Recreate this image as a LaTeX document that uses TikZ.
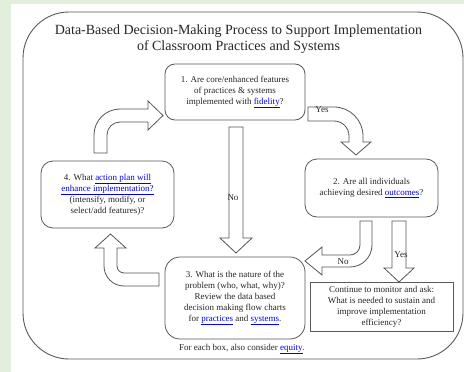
\documentclass[tikz,border=0pt]{standalone}
\usepackage{fontspec}
\setmainfont{Liberation Serif}
\definecolor{bggreen}{HTML}{E2EFDA}
\definecolor{edgegray}{HTML}{5A5A5A}
\definecolor{arrowgray}{HTML}{555555}
\definecolor{linkblue}{HTML}{0000EE}
\newcommand{\lnk}[1]{\textcolor{linkblue}{\underline{#1}}}
\begin{document}
\begin{tikzpicture}[x=1pt,y=-1pt,
  boxtext/.style={font=\fontsize{9}{11}\selectfont, align=center, text=black!85},
  qbox/.style={draw=edgegray, line width=0.8pt, rounded corners=#1, boxtext, inner sep=2pt},
  qbox/.default=10pt,
  plainbox/.style={draw=edgegray, line width=0.8pt, boxtext, inner sep=2pt},
  blockarrow/.style={draw=arrowgray, fill=white, line width=0.8pt, line join=miter},
  tag/.style={font=\fontsize{9}{11}\selectfont, text=black!85, inner sep=0pt}]

% page background and white panel
\fill[bggreen] (0,0) rectangle (464,372);
\fill[white] (11,4) rectangle (464,372);
\useasboundingbox (0,0) rectangle (464,372);

% outer frame
\node[draw=edgegray, line width=0.9pt, rounded corners=46pt,
      minimum width=440pt, minimum height=347pt, inner sep=0pt] (frame) at (243,185.5) {};

% title
\node[font=\fontsize{14}{16}\selectfont, align=center, text=black!85] (title) at (238.5,39)
  {Data-Based Decision-Making Process to Support Implementation\\of Classroom Practices and Systems};

% question boxes
\node[qbox=10pt, minimum width=140pt, minimum height=56pt] (q1) at (235,92)
  {1. Are core/enhanced features\\of practices \& systems\\implemented with \lnk{fidelity}?};
\node[qbox=12pt, minimum width=133pt, minimum height=58pt] (q2) at (371.5,188)
  {2. Are all individuals\\achieving desired \lnk{outcomes}?};
\node[qbox=15pt, minimum width=140pt, minimum height=82pt] (q3) at (235,298)
  {3. What is the nature of the\\problem (who, what, why)?\\Review the data based\\decision making flow charts\\for \lnk{practices} and \lnk{systems}.};
\node[qbox=12pt, minimum width=133pt, minimum height=67pt] (q4) at (107.5,194.5)
  {4. What \lnk{action plan will}\\\lnk{enhance implementation?}\\(intensify, modify, or\\select/add features)?};
\node[plainbox, minimum width=143pt, minimum height=49pt] (cont) at (381.5,306.5)
  {Continue to monitor and ask:\\What is needed to sustain and\\improve implementation\\efficiency?};

% footer
\node[boxtext] (foot) at (242,349) {For each box, also consider \lnk{equity}.};

% block arrows
% 1 -> 3 (No)
\draw[blockarrow] (229,127) -- (243,127) -- (243,238) -- (252,238) -- (236,253)
  -- (220,238) -- (229,238) -- cycle;
% 1 -> 2 (Yes)
\draw[blockarrow] (308,107) -- (334,107) arc[start angle=90,end angle=0,radius=29pt]
  -- (363,142) -- (371,142) -- (356,155) -- (341,142) -- (349,142) -- (349,136)
  arc[start angle=0,end angle=90,radius=15pt] -- (308,121) -- cycle;
% 2 -> 3 (No)
\draw[blockarrow] (360,221) -- (372,221) -- (372,245) arc[start angle=0,end angle=-90,radius=22pt]
  -- (322,267) -- (322,275) -- (305,261) -- (322,247) -- (322,255) -- (350,255)
  arc[start angle=-90,end angle=0,radius=10pt] -- cycle;
% 2 -> continue (Yes)
\draw[blockarrow] (392,221) -- (406,221) -- (406,268) -- (414,268) -- (399,282)
  -- (384,268) -- (392,268) -- cycle;
% 3 -> 4
\draw[blockarrow] (159,286) -- (124,286) arc[start angle=270,end angle=180,radius=20pt]
  -- (104,248) -- (95,248) -- (110.5,234) -- (126,248) -- (117,248) -- (117,266)
  arc[start angle=180,end angle=270,radius=7pt] -- (159,273) -- cycle;
% 4 -> 1
\draw[blockarrow] (94,153) -- (94,135) arc[start angle=180,end angle=90,radius=26pt]
  -- (148,109) -- (148,101) -- (163,115.5) -- (148,130) -- (148,122) -- (120,122)
  arc[start angle=90,end angle=180,radius=13pt] -- (107,153) -- cycle;

% arrow labels
\node[tag] (no1) at (233,198) {No};
\node[tag] (yes1) at (322,110) {Yes};
\node[tag] (no2) at (343,262) {No};
\node[tag] (yes2) at (401,255) {Yes};
\end{tikzpicture}
\end{document}
